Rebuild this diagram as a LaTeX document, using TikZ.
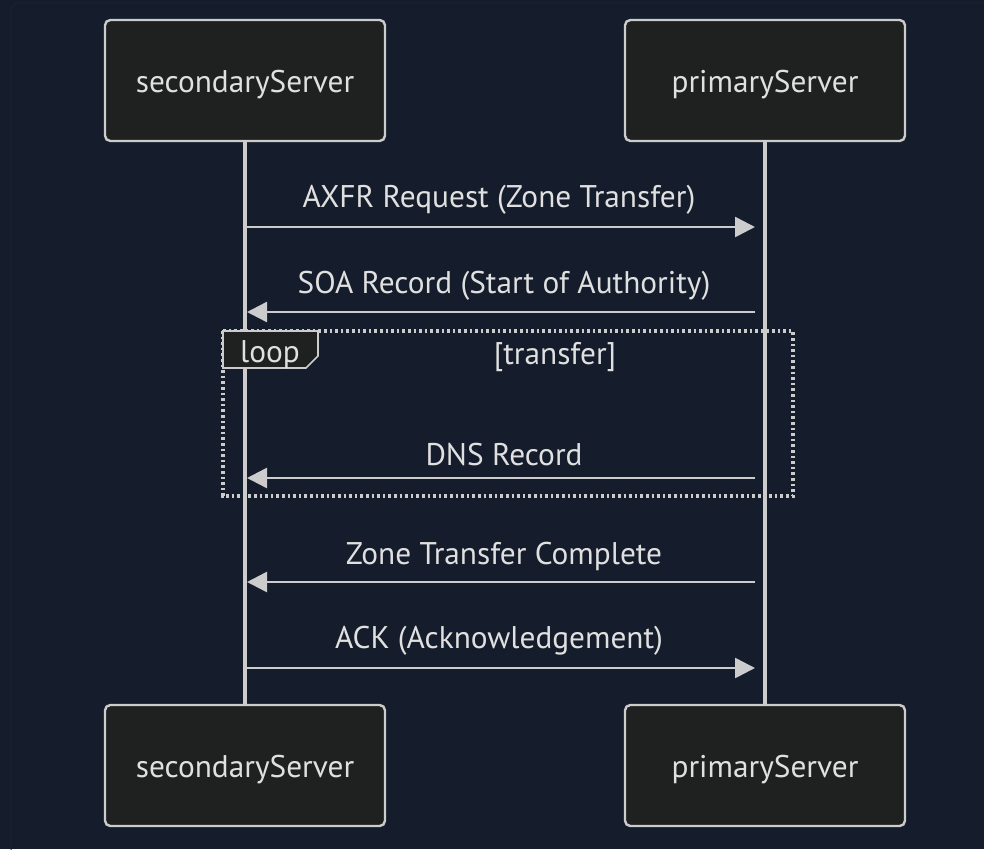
\documentclass[tikz,border=0pt]{standalone}
\usepackage{fontspec}
\setmainfont{PT Sans}
\usetikzlibrary{arrows.meta}
\definecolor{bgc}{HTML}{151C2B}
\definecolor{framec}{HTML}{1B2333}
\definecolor{boxfill}{HTML}{1F2020}
\definecolor{boxline}{HTML}{CCCCCC}
\definecolor{linec}{HTML}{CCCCCC}
\definecolor{txt}{HTML}{E0E0E0}
\tikzset{
  actor/.style={draw=boxline, fill=boxfill, line width=1.8pt, rounded corners=4pt,
    minimum width=210pt, minimum height=90.75pt, inner sep=0pt,
    text height=18pt, text depth=0pt,
    text=txt, font=\fontsize{23.5}{28}\selectfont},
  lifeline/.style={draw=linec, line width=2.6pt},
  msg/.style={draw=linec, line width=1.9pt,
    -{Triangle[length=15pt, width=15pt]}},
  msglabel/.style={text=txt, font=\fontsize{23.5}{28}\selectfont, inner sep=0pt},
  loopframe/.style={draw=linec, line width=2.4pt, dash pattern=on 2pt off 2.2pt},
  looptab/.style={draw=boxline, fill=boxfill, line width=1.3pt},
}
\begin{document}
\begin{tikzpicture}[x=0.75pt, y=-0.75pt]
  % canvas
  \fill[bgc] (0,0) rectangle (984,849);
  \useasboundingbox (0,0) rectangle (984,849);
  \draw[framec, line width=0.75pt, rounded corners=6pt] (11,3) rectangle (990,860);

  % participants
  \node[actor] (s1) at (245,80.5) {secondaryServer};
  \node[actor] (p1) at (765,80.5) {primaryServer};
  \node[actor] (s2) at (245,765.5) {secondaryServer};
  \node[actor] (p2) at (765,765.5) {primaryServer};

  % lifelines
  \draw[lifeline] (s1.south) -- (s2.north);
  \draw[lifeline] (p1.south) -- (p2.north);

  % message anchors on the lifelines
  \coordinate (sA) at (245,227); \coordinate (pA) at (755,227);
  \coordinate (sB) at (247,312); \coordinate (pB) at (755,312);
  \coordinate (sC) at (247,478); \coordinate (pC) at (755,478);
  \coordinate (sD) at (247,582); \coordinate (pD) at (755,582);
  \coordinate (sE) at (245,668); \coordinate (pE) at (755,668);

  % loop frame
  \draw[loopframe] (223,331) rectangle (793,496);
  \draw[looptab] (223,331) -- (318,331) -- (318,356) -- (306,368) -- (223,368) -- cycle;
  \node[msglabel] (looplbl) at (270,355) {loop};
  \node[msglabel] (cond) at (555,357) {[transfer]};

  % messages
  \draw[msg] (sA) -- (pA);
  \node[msglabel] (lA) at (499,200) {AXFR Request (Zone Transfer)};
  \draw[msg] (pB) -- (sB);
  \node[msglabel] (lB) at (504,286) {SOA Record (Start of Authority)};
  \draw[msg] (pC) -- (sC);
  \node[msglabel] (lC) at (504,455) {DNS Record};
  \draw[msg] (pD) -- (sD);
  \node[msglabel] (lD) at (504,556) {Zone Transfer Complete};
  \draw[msg] (sE) -- (pE);
  \node[msglabel] (lE) at (499,641) {ACK (Acknowledgement)};
\end{tikzpicture}
\end{document}
